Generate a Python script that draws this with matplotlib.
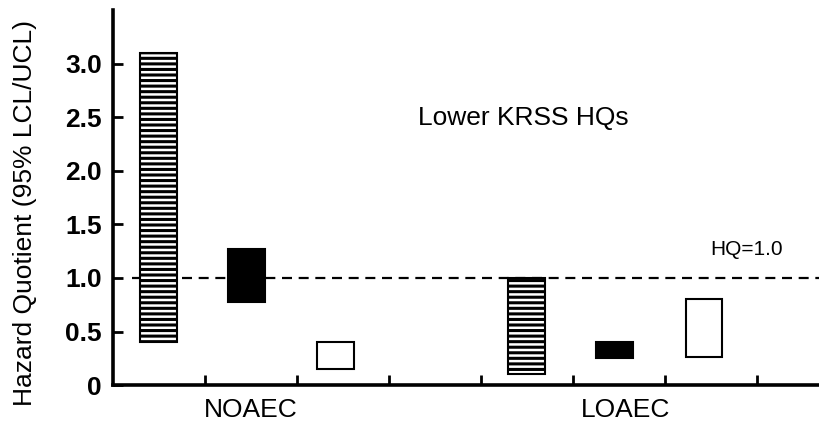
import matplotlib
matplotlib.use('Agg')
import matplotlib.pyplot as plt
from matplotlib.transforms import blended_transform_factory

# ---- data ----
categories = ['NOAEC', 'LOAEC']
noaec_lcl = [0.40, 0.78, 0.15]
noaec_ucl = [3.10, 1.27, 0.40]
loaec_lcl = [0.10, 0.25, 0.26]
loaec_ucl = [1.00, 0.40, 0.80]
y_ticks = [0, 0.5, 1.0, 1.5, 2.0, 2.5, 3.0]
y_tick_labels = ['0', '0.5', '1.0', '1.5', '2.0', '2.5', '3.0']
reference_hq = 1.0
title_text = 'Lower KRSS HQs'
ref_text = 'HQ=1.0'
y_label = 'Hazard Quotient (95% LCL/UCL)'

plt.rcParams['font.family'] = ['Liberation Sans', 'DejaVu Sans']
plt.rcParams['hatch.linewidth'] = 2.2
plt.rcParams['hatch.color'] = 'black'

fig = plt.figure(figsize=(8.2, 4.25), dpi=100)
ax = fig.add_axes([0.138, 0.094, 0.862, 0.882])

group_centers = [1.45, 5.45]
offsets = [-0.96, 0.0, 0.97]
styles = [dict(facecolor='white', hatch='---'),
          dict(facecolor='black'),
          dict(facecolor='white')]
bar_w = 0.4

for gc, lo, hi in zip(group_centers, [noaec_lcl, loaec_lcl], [noaec_ucl, loaec_ucl]):
    for off, l, h, st in zip(offsets, lo, hi, styles):
        ax.bar(gc + off, h - l, bottom=l, width=bar_w, edgecolor='black',
               linewidth=1.5, zorder=3, **st)

ax.axhline(reference_hq, xmin=0.2 / 7.68, xmax=1.0, color='black', lw=1.6,
           ls=(0, (4.5, 3)), zorder=2)

ax.set_xlim(0, 7.68)
ax.set_ylim(0, 3.5)
ax.set_yticks(y_ticks)
ax.set_yticklabels(y_tick_labels, fontsize=19, fontweight='bold')
ax.set_xticks([1, 2, 3, 4, 5, 6, 7])
ax.set_xticklabels([])
ax.tick_params(axis='both', direction='in', length=7, width=2)
ax.tick_params(axis='y', pad=8)

for s in ['top', 'right']:
    ax.spines[s].set_visible(False)
ax.spines['left'].set_linewidth(2.6)
ax.spines['bottom'].set_linewidth(2.6)

tr = blended_transform_factory(ax.transData, ax.transAxes)
for xpos, cat in zip([1.5, 5.57], categories):
    ax.text(xpos, -0.035, cat, transform=tr, ha='center', va='top', fontsize=19)

ax.text(4.46, 2.49, title_text, ha='center', va='center', fontsize=19)
ax.text(6.88, 1.27, ref_text, ha='center', va='center', fontsize=15)

fig.text(0.03, 0.5, y_label, rotation=90, ha='center', va='center', fontsize=19)

fig.savefig('out.png', dpi=100)
